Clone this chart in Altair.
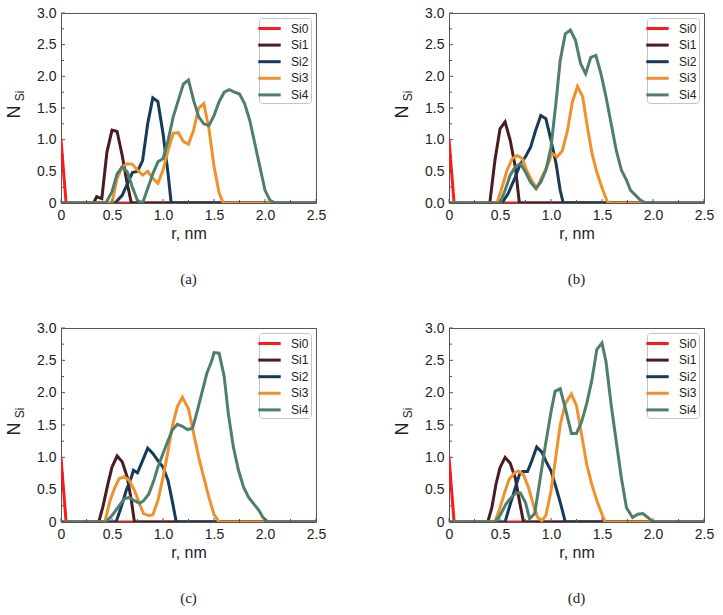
import altair as alt
import pandas as pd

SERIES = ["Si0", "Si1", "Si2", "Si3", "Si4"]
COLORS = ["#ff1a1a", "#4a1c1f", "#163a57", "#ee922d", "#4f7f6c"]

X_MAJOR = [0.0, 0.5, 1.0, 1.5, 2.0, 2.5]
X_MINOR = [0.25, 0.75, 1.25, 1.75, 2.25]
Y_MAJOR = [0.0, 0.5, 1.0, 1.5, 2.0, 2.5, 3.0]
Y_MINOR = [0.25, 0.75, 1.25, 1.75, 2.25, 2.75]

# ---- panel (a) ----
A_SI0_R = [0.0, 0.05, 2.5]
A_SI0_N = [1.0, 0.0, 0.0]
A_SI1_R = [0.0, 0.32, 0.35, 0.40, 0.45, 0.50, 0.55, 0.60, 0.65, 0.69, 2.5]
A_SI1_N = [0.0, 0.0, 0.10, 0.07, 0.80, 1.15, 1.13, 0.75, 0.30, 0.0, 0.0]
A_SI2_R = [0.0, 0.53, 0.60, 0.65, 0.70, 0.75, 0.80, 0.85, 0.90, 0.95, 1.00, 1.05, 1.08, 2.5]
A_SI2_N = [0.0, 0.0, 0.12, 0.30, 0.48, 0.50, 0.67, 1.25, 1.66, 1.60, 1.10, 0.46, 0.0, 0.0]
A_SI3_R = [0.0, 0.50, 0.55, 0.60, 0.65, 0.70, 0.75, 0.80, 0.85, 0.90, 0.95, 1.00, 1.05,
           1.10, 1.15, 1.20, 1.25, 1.30, 1.35, 1.40, 1.45, 1.50, 1.55, 1.59, 2.5]
A_SI3_N = [0.0, 0.0, 0.39, 0.57, 0.62, 0.61, 0.52, 0.44, 0.50, 0.39, 0.31, 0.52, 0.83,
           1.10, 1.11, 0.97, 0.93, 1.15, 1.50, 1.57, 1.18, 0.58, 0.16, 0.0, 0.0]
A_SI4_R = [0.0, 0.44, 0.50, 0.55, 0.60, 0.65, 0.70, 0.75, 0.80, 0.85, 0.90, 0.95, 1.00,
           1.05, 1.10, 1.15, 1.20, 1.25, 1.30, 1.35, 1.40, 1.45, 1.50, 1.55, 1.60, 1.65,
           1.70, 1.75, 1.80, 1.85, 1.90, 1.95, 2.00, 2.05, 2.10, 2.5]
A_SI4_N = [0.0, 0.0, 0.18, 0.46, 0.57, 0.49, 0.25, 0.04, 0.0, 0.23, 0.46, 0.65, 0.70,
           0.99, 1.36, 1.62, 1.88, 1.94, 1.62, 1.36, 1.25, 1.22, 1.38, 1.60, 1.75, 1.79,
           1.75, 1.72, 1.57, 1.31, 0.94, 0.57, 0.20, 0.04, 0.0, 0.0]

# ---- panel (b) ----
B_SI0_R = [0.0, 0.05, 2.5]
B_SI0_N = [1.0, 0.0, 0.0]
B_SI1_R = [0.0, 0.40, 0.45, 0.50, 0.55, 0.60, 0.65, 0.69, 2.5]
B_SI1_N = [0.0, 0.0, 0.67, 1.17, 1.28, 0.99, 0.57, 0.0, 0.0]
B_SI2_R = [0.0, 0.52, 0.58, 0.65, 0.70, 0.75, 0.80, 0.85, 0.90, 0.95, 1.00, 1.05, 1.09, 1.12, 2.5]
B_SI2_N = [0.0, 0.0, 0.15, 0.41, 0.62, 0.73, 0.88, 1.15, 1.38, 1.33, 0.99, 0.62, 0.20, 0.0, 0.0]
B_SI3_R = [0.0, 0.47, 0.52, 0.57, 0.62, 0.67, 0.72, 0.76, 0.81, 0.86, 0.91, 0.96, 1.01,
           1.06, 1.11, 1.16, 1.21, 1.26, 1.31, 1.36, 1.40, 1.45, 1.50, 1.55, 1.57, 2.5]
B_SI3_N = [0.0, 0.0, 0.25, 0.52, 0.70, 0.75, 0.70, 0.52, 0.36, 0.23, 0.41, 0.57, 0.78,
           0.73, 0.82, 1.13, 1.60, 1.84, 1.68, 1.17, 0.80, 0.48, 0.24, 0.03, 0.0, 0.0]
B_SI4_R = [0.0, 0.50, 0.55, 0.60, 0.65, 0.70, 0.75, 0.80, 0.85, 0.90, 0.95, 1.00, 1.05,
           1.09, 1.14, 1.19, 1.24, 1.29, 1.34, 1.39, 1.44, 1.49, 1.54, 1.59, 1.64, 1.69,
           1.74, 1.78, 1.83, 1.88, 1.93, 2.5]
B_SI4_N = [0.0, 0.0, 0.20, 0.44, 0.57, 0.62, 0.49, 0.33, 0.23, 0.33, 0.52, 0.88, 1.60,
           2.25, 2.67, 2.73, 2.57, 2.20, 2.04, 2.30, 2.33, 2.04, 1.67, 1.25, 0.83, 0.52,
           0.36, 0.20, 0.12, 0.04, 0.0, 0.0]

# ---- panel (c) ----
C_SI0_R = [0.0, 0.05, 2.5]
C_SI0_N = [1.0, 0.0, 0.0]
C_SI1_R = [0.0, 0.37, 0.41, 0.46, 0.50, 0.55, 0.60, 0.65, 0.69, 0.72, 2.5]
C_SI1_N = [0.0, 0.0, 0.23, 0.59, 0.85, 1.02, 0.93, 0.69, 0.33, 0.0, 0.0]
C_SI2_R = [0.0, 0.54, 0.59, 0.64, 0.69, 0.71, 0.75, 0.80, 0.85, 0.90, 0.95, 1.00, 1.05, 1.09, 1.13, 2.5]
C_SI2_N = [0.0, 0.0, 0.23, 0.49, 0.69, 0.80, 0.76, 0.95, 1.14, 1.06, 0.95, 0.85, 0.64, 0.33, 0.0, 0.0]
C_SI3_R = [0.0, 0.43, 0.48, 0.53, 0.57, 0.62, 0.67, 0.72, 0.77, 0.81, 0.86, 0.90, 0.95,
           1.00, 1.05, 1.09, 1.14, 1.19, 1.25, 1.30, 1.35, 1.40, 1.45, 1.50, 1.55, 2.5]
C_SI3_N = [0.0, 0.0, 0.33, 0.54, 0.67, 0.70, 0.64, 0.49, 0.28, 0.13, 0.10, 0.11, 0.33,
           0.69, 1.10, 1.47, 1.78, 1.93, 1.75, 1.37, 1.00, 0.69, 0.38, 0.12, 0.0, 0.0]
C_SI4_R = [0.0, 0.44, 0.51, 0.57, 0.62, 0.67, 0.72, 0.77, 0.81, 0.86, 0.91, 0.95, 1.00,
           1.05, 1.09, 1.14, 1.19, 1.24, 1.29, 1.33, 1.38, 1.43, 1.48, 1.50, 1.55, 1.60,
           1.64, 1.69, 1.74, 1.79, 1.84, 1.89, 1.94, 1.98, 2.03, 2.5]
C_SI4_N = [0.0, 0.0, 0.12, 0.25, 0.36, 0.38, 0.33, 0.29, 0.33, 0.43, 0.64, 0.85, 1.06,
           1.26, 1.42, 1.51, 1.48, 1.43, 1.45, 1.68, 1.99, 2.30, 2.50, 2.62, 2.61, 2.25,
           1.68, 1.16, 0.80, 0.54, 0.38, 0.28, 0.18, 0.07, 0.0, 0.0]

# ---- panel (d) ----
D_SI0_R = [0.0, 0.05, 2.5]
D_SI0_N = [1.0, 0.0, 0.0]
D_SI1_R = [0.0, 0.38, 0.42, 0.46, 0.50, 0.55, 0.60, 0.65, 0.69, 0.73, 2.5]
D_SI1_N = [0.0, 0.0, 0.22, 0.58, 0.84, 1.00, 0.91, 0.68, 0.33, 0.0, 0.0]
D_SI2_R = [0.0, 0.55, 0.59, 0.64, 0.69, 0.72, 0.77, 0.81, 0.86, 0.91, 0.95, 1.00, 1.05, 1.10, 1.14, 2.5]
D_SI2_N = [0.0, 0.0, 0.22, 0.48, 0.73, 0.78, 0.78, 0.94, 1.16, 1.08, 0.94, 0.79, 0.53, 0.25, 0.0, 0.0]
D_SI3_R = [0.0, 0.45, 0.50, 0.55, 0.59, 0.64, 0.68, 0.73, 0.78, 0.83, 0.87, 0.91, 0.95,
           1.00, 1.05, 1.09, 1.14, 1.20, 1.25, 1.30, 1.35, 1.40, 1.45, 1.50, 1.53, 2.5]
D_SI3_N = [0.0, 0.0, 0.22, 0.48, 0.66, 0.76, 0.79, 0.73, 0.53, 0.25, 0.07, 0.02, 0.10,
           0.48, 1.04, 1.50, 1.83, 1.98, 1.80, 1.35, 0.89, 0.58, 0.33, 0.12, 0.0, 0.0]
D_SI4_R = [0.0, 0.45, 0.50, 0.56, 0.61, 0.66, 0.70, 0.75, 0.79, 0.84, 0.88, 0.94, 1.00,
           1.04, 1.09, 1.14, 1.20, 1.25, 1.30, 1.35, 1.40, 1.45, 1.50, 1.54, 1.59, 1.64,
           1.69, 1.74, 1.80, 1.85, 1.90, 1.95, 2.00, 2.5]
D_SI4_N = [0.0, 0.0, 0.10, 0.28, 0.38, 0.45, 0.45, 0.30, 0.05, 0.13, 0.53, 1.14, 1.70,
           2.02, 2.06, 1.76, 1.37, 1.37, 1.55, 1.83, 2.19, 2.67, 2.77, 2.47, 1.81, 1.24,
           0.68, 0.22, 0.07, 0.12, 0.13, 0.07, 0.0, 0.0]

# caption, series pieces, bottom y label written as "0", plot height
PANELS = [
    ("(a)", [(A_SI0_R, A_SI0_N), (A_SI1_R, A_SI1_N), (A_SI2_R, A_SI2_N), (A_SI3_R, A_SI3_N), (A_SI4_R, A_SI4_N)], True, 190),
    ("(b)", [(B_SI0_R, B_SI0_N), (B_SI1_R, B_SI1_N), (B_SI2_R, B_SI2_N), (B_SI3_R, B_SI3_N), (B_SI4_R, B_SI4_N)], False, 190),
    ("(c)", [(C_SI0_R, C_SI0_N), (C_SI1_R, C_SI1_N), (C_SI2_R, C_SI2_N), (C_SI3_R, C_SI3_N), (C_SI4_R, C_SI4_N)], True, 194),
    ("(d)", [(D_SI0_R, D_SI0_N), (D_SI1_R, D_SI1_N), (D_SI2_R, D_SI2_N), (D_SI3_R, D_SI3_N), (D_SI4_R, D_SI4_N)], True, 194),
]

W = 255
INK = "#222222"
FRAME = "#555555"
SANS = "Liberation Sans"

X_SCALE = alt.Scale(domain=[0, 2.5], nice=False, zero=False)
Y_SCALE = alt.Scale(domain=[0, 3], nice=False)
X_AXIS = alt.Axis(values=X_MAJOR, title="r, nm", ticks=False, domain=False, grid=False,
                  labelExpr="datum.value == 0 ? '0' : format(datum.value, '.1f')",
                  labelFlush=False, labelPadding=5, titlePadding=3)


def y_axis(zero_as_int):
    expr = ("datum.value == 0 ? '0' : format(datum.value, '.1f')"
            if zero_as_int else "format(datum.value, '.1f')")
    return alt.Axis(values=Y_MAJOR, title=None, ticks=False, domain=False, grid=False,
                    labelExpr=expr, labelFlush=False, labelPadding=5)


def panel(caption, pieces, zero_as_int, H, first=False):
    rows = []
    for name, (rs, ns) in zip(SERIES, pieces):
        for r, n in zip(rs, ns):
            rows.append({"series": name, "r": r, "n": n})
    df = pd.DataFrame(rows)
    y_ax = y_axis(zero_as_int)

    lines = alt.Chart(df).mark_line(strokeWidth=3, clip=True).encode(
        x=alt.X("r:Q", scale=X_SCALE, axis=X_AXIS),
        y=alt.Y("n:Q", scale=Y_SCALE, axis=y_ax),
        color=alt.Color("series:N", scale=alt.Scale(domain=SERIES, range=COLORS),
                        legend=alt.Legend(orient="top-right", offset=5, title=None,
                                          symbolType="M-1.6,0H1.6", symbolSize=196,
                                          symbolStrokeWidth=3, labelFontSize=12,
                                          labelOffset=13, rowPadding=1.6, padding=2,
                                          strokeColor="#c4c4c4", fillColor="white",
                                          cornerRadius=3, labelColor=INK, labelFont=SANS)),
    )

    # inward tick marks along the bottom and left frame edges
    def xticks(vals, length):
        return alt.Chart(pd.DataFrame({"r": vals})).mark_rule(color=FRAME, strokeWidth=1).encode(
            x=alt.X("r:Q", scale=X_SCALE, axis=X_AXIS), y=alt.value(H), y2=alt.value(H - length))

    def yticks(vals, length):
        return alt.Chart(pd.DataFrame({"n": vals})).mark_rule(color=FRAME, strokeWidth=1).encode(
            y=alt.Y("n:Q", scale=Y_SCALE, axis=y_ax), x=alt.value(0), x2=alt.value(length))

    one = pd.DataFrame({"t": [0]})
    n_label = alt.Chart(one).mark_text(text="N", angle=270, fontSize=18, font=SANS, color=INK,
                                       align="center", baseline="middle").encode(
        x=alt.value(-46), y=alt.value(H / 2 + 4))
    si_label = alt.Chart(one).mark_text(text="Si", angle=270, fontSize=12, font=SANS, color=INK,
                                        align="center", baseline="middle").encode(
        x=alt.value(-41), y=alt.value(H / 2 - 12))
    cap = alt.Chart(one).mark_text(text=caption, fontSize=15, font="Liberation Serif", color=INK,
                                   align="center", baseline="middle").encode(
        x=alt.value(W / 2), y=alt.value(H + 76))

    layers = [lines, xticks(X_MAJOR, 4), xticks(X_MINOR, 3), yticks(Y_MAJOR, 4),
              yticks(Y_MINOR, 3), n_label, si_label, cap]
    if first:
        # invisible spacer that fixes the top-left corner of the page
        layers.append(alt.Chart(one).mark_rule(opacity=0, strokeWidth=1).encode(
            x=alt.value(-60), x2=alt.value(-60), y=alt.value(-12), y2=alt.value(-11)))
    return alt.layer(*layers).properties(width=W, height=H)


charts = [panel(c, p, z, h, first=(i == 0)) for i, (c, p, z, h) in enumerate(PANELS)]

chart = alt.concat(*charts, columns=2, spacing={"row": 125, "column": 133}).properties(
    bounds="flush", padding=0
).resolve_scale(color="independent").resolve_legend(color="independent").configure(
    font=SANS
).configure_view(
    stroke=FRAME, strokeWidth=1
).configure_axis(
    labelFont=SANS, labelFontSize=14, labelColor=INK,
    titleFont=SANS, titleFontSize=16, titleFontWeight="normal", titleColor=INK,
)

chart.save("out.html", embed_options={"renderer": "svg", "actions": False})
